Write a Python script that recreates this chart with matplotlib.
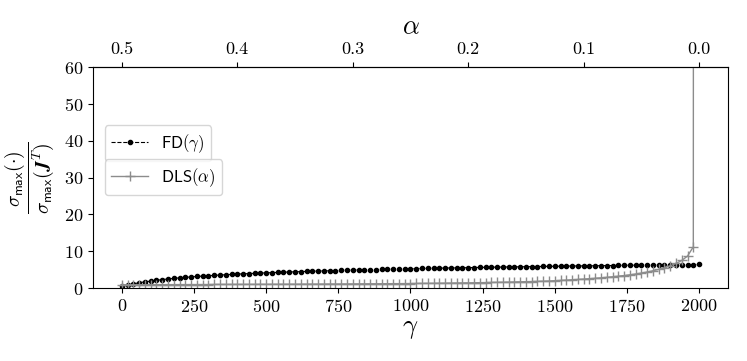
import numpy as np
import matplotlib
matplotlib.use("Agg")
import matplotlib.pyplot as plt

plt.rcParams['font.family'] = 'serif'
plt.rcParams['font.serif'] = ['cmr10']
plt.rcParams['mathtext.fontset'] = 'cm'
plt.rcParams['axes.formatter.use_mathtext'] = True

# FD(gamma), gamma = 0, 20, ..., 2000
fd_gamma = np.arange(0, 2001, 20)
fd_ratio = [
    0.50, 0.80, 1.15, 1.45, 1.70, 1.90, 2.11, 2.30, 2.48, 2.63,
    2.78, 2.91, 3.03, 3.15, 3.26, 3.36, 3.45, 3.54, 3.63, 3.71,
    3.79, 3.87, 3.94, 4.01, 4.07, 4.14, 4.20, 4.26, 4.31, 4.37,
    4.42, 4.48, 4.53, 4.58, 4.62, 4.67, 4.72, 4.76, 4.80, 4.85,
    4.89, 4.93, 4.97, 5.00, 5.04, 5.08, 5.11, 5.15, 5.19, 5.22,
    5.25, 5.28, 5.32, 5.35, 5.38, 5.41, 5.44, 5.47, 5.50, 5.52,
    5.55, 5.58, 5.61, 5.63, 5.66, 5.69, 5.71, 5.74, 5.76, 5.78,
    5.81, 5.83, 5.86, 5.88, 5.90, 5.92, 5.95, 5.97, 5.99, 6.01,
    6.03, 6.05, 6.07, 6.09, 6.11, 6.13, 6.15, 6.17, 6.19, 6.21,
    6.23, 6.25, 6.27, 6.28, 6.30, 6.32, 6.34, 6.35, 6.37, 6.39,
    6.41,
]

# DLS(alpha), alpha = 0.5, 0.495, ..., 0.0
dls_alpha = np.round(np.arange(0.5, -0.0001, -0.005), 3)
dls_ratio = [
    0.90, 0.90, 0.91, 0.91, 0.92, 0.92, 0.93, 0.93, 0.94, 0.94,
    0.95, 0.95, 0.96, 0.96, 0.97, 0.97, 0.98, 0.98, 0.99, 0.99,
    1.00, 1.00, 1.01, 1.01, 1.02, 1.02, 1.03, 1.03, 1.04, 1.05,
    1.05, 1.06, 1.07, 1.07, 1.08, 1.09, 1.10, 1.10, 1.11, 1.12,
    1.13, 1.14, 1.15, 1.16, 1.17, 1.18, 1.19, 1.20, 1.21, 1.22,
    1.24, 1.25, 1.27, 1.28, 1.30, 1.32, 1.34, 1.36, 1.38, 1.40,
    1.42, 1.44, 1.47, 1.50, 1.53, 1.56, 1.59, 1.62, 1.66, 1.70,
    1.74, 1.78, 1.82, 1.87, 1.92, 2.00, 2.08, 2.16, 2.25, 2.34,
    2.44, 2.55, 2.66, 2.78, 2.92, 3.07, 3.23, 3.40, 3.60, 3.82,
    4.07, 4.36, 4.70, 5.08, 5.52, 6.05, 6.70, 7.50, 8.70, 11.2,
    5000.0,
]

alpha_ticks = [0.5, 0.4, 0.3, 0.2, 0.1, 0.0]
gamma_ticks = [0, 250, 500, 750, 1000, 1250, 1500, 1750, 2000]


def alpha_to_gamma(a):
    return (0.5 - np.asarray(a)) * 4000.0


def gamma_to_alpha(g):
    return 0.5 - np.asarray(g) / 4000.0


fig = plt.figure(figsize=(7.47, 3.61), dpi=100)
ax = fig.add_axes([0.1245, 0.202, 0.85, 0.612])

l1, = ax.plot(fd_gamma, fd_ratio, 'k--', marker='.', markersize=6, linewidth=0.8,
              label=r'$\mathsf{FD}(\gamma)$')
l2, = ax.plot(alpha_to_gamma(dls_alpha), dls_ratio, color='#8c8c8c', marker='+',
              markersize=7, linewidth=1.0, label=r'$\mathsf{DLS}(\alpha)$')

ax.set_xlim(-100, 2100)
ax.set_ylim(0, 60)
ax.set_xticks(gamma_ticks)
ax.set_yticks(range(0, 61, 10))
ax.tick_params(labelsize=13)
ax.set_xlabel(r'$\gamma$', fontsize=19, labelpad=2)
ax.set_ylabel(r'$\dfrac{\sigma_{\mathsf{max}}(\cdot)}{\sigma_{\mathsf{max}}(\boldsymbol{J}^T)}$',
              fontsize=14, labelpad=6)

top = ax.secondary_xaxis('top', functions=(gamma_to_alpha, alpha_to_gamma))
top.set_xticks(alpha_ticks)
top.set_xticklabels(['%.1f' % a for a in alpha_ticks])
top.tick_params(labelsize=13)
top.set_xlabel(r'$\alpha$', fontsize=19, labelpad=6)

leg1 = ax.legend(handles=[l1], loc='upper left', bbox_to_anchor=(0.005, 0.775),
                 fontsize=12, handlelength=2.2)
ax.add_artist(leg1)
ax.legend(handles=[l2], loc='upper left', bbox_to_anchor=(0.005, 0.62),
          fontsize=12, handlelength=2.2)

plt.savefig('out.png', dpi=100)
